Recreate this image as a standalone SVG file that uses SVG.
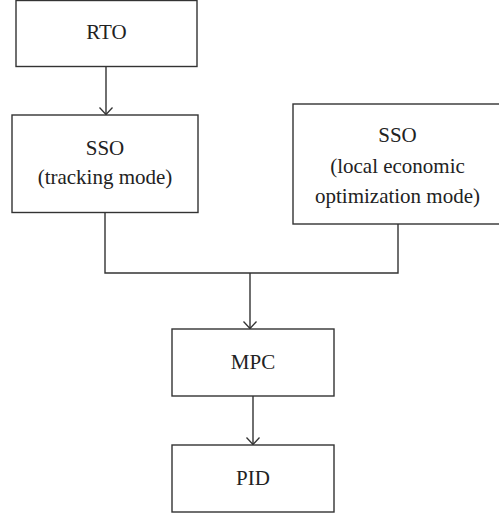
<svg xmlns="http://www.w3.org/2000/svg" width="499" height="516" viewBox="0 0 499 516">
<defs>
<style>
.box{fill:#fff;stroke:#333;stroke-width:1.4}
.t{font-family:"Liberation Serif","Times New Roman",serif;font-size:21px;fill:#222;text-anchor:middle}
.c{fill:none;stroke:#333;stroke-width:1.4}
.ah{fill:none;stroke:#333;stroke-width:1.3}
</style>
</defs>
<rect width="499" height="516" fill="#fff"/>
<g id="connectors">
<line class="c" x1="106" y1="66.5" x2="106" y2="114.5"/>
<path class="ah" d="M99.5,107.5 L106,114.5 L112.5,107.5"/>
<polyline class="c" points="105,212.5 105,273 398,273 398,224"/>
<line class="c" x1="250" y1="273" x2="250" y2="328.5"/>
<path class="ah" d="M243.5,321.5 L250,328.5 L256.5,321.5"/>
<line class="c" x1="253" y1="396" x2="253" y2="444.5"/>
<path class="ah" d="M246.5,437.5 L253,444.5 L259.5,437.5"/>
</g>
<g id="rto">
<rect class="box" x="16" y="0.5" width="181" height="66"/>
<text class="t" x="106.5" y="38.5">RTO</text>
</g>
<g id="sso-tracking">
<rect class="box" x="12" y="115" width="186" height="97.5"/>
<text class="t" x="105" y="155">SSO</text>
<text class="t" x="105" y="183.5">(tracking mode)</text>
</g>
<g id="sso-local">
<rect class="box" x="293" y="104" width="210" height="120"/>
<text class="t" x="397.5" y="142">SSO</text>
<text class="t" x="397.5" y="173">(local economic</text>
<text class="t" x="397.5" y="203">optimization mode)</text>
</g>
<g id="mpc">
<rect class="box" x="172" y="329" width="162" height="67"/>
<text class="t" x="253" y="368.5">MPC</text>
</g>
<g id="pid">
<rect class="box" x="172" y="445" width="162" height="67"/>
<text class="t" x="253" y="484.5">PID</text>
</g>
</svg>
